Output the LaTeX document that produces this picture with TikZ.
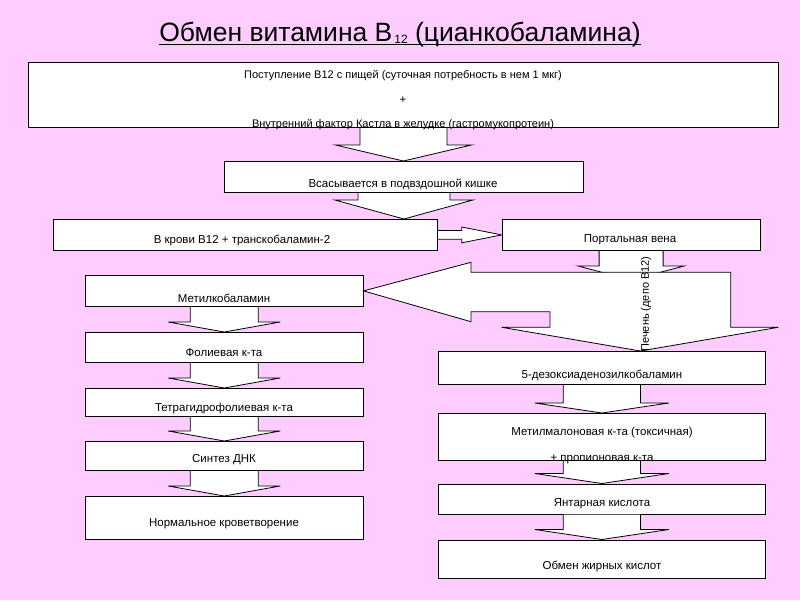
\documentclass[tikz,border=0pt]{standalone}
\usepackage{fontspec}
\setmainfont{Liberation Sans}
\usetikzlibrary{calc}
\definecolor{pinkbg}{RGB}{255,204,255}
\tikzset{
  boxnode/.style={draw, fill=white, line width=0.8pt, anchor=north west, inner sep=0pt},
  blockarrow/.style={draw, fill=white, line width=0.8pt, line join=miter},
  lbl/.style={inner sep=0pt, font=\fontsize{11.5}{13}\selectfont}
}
\newcommand{\blockdown}[5]{%
  \path[blockarrow] let \p1=(#1), \p2=(#2) in
    (\x1-#3,\y1-0.4pt) -- (\x1-#3,\y2+#5) -- (\x1-#4,\y2+#5) -- (\x1,\y2)
    -- (\x1+#4,\y2+#5) -- (\x1+#3,\y2+#5) -- (\x1+#3,\y1-0.4pt);}

\begin{document}
\begin{tikzpicture}[x=1pt,y=-1pt]
\fill[pinkbg] (0,0) rectangle (800,600);
\useasboundingbox (0,0) rectangle (800,600);

\node[anchor=base, inner sep=0pt, font=\fontsize{26.5}{30}\selectfont] (title) at (400,41)
  {Обмен витамина В\raisebox{-2pt}{\fontsize{12}{13}\selectfont\,12} (цианкобаламина)};
\draw[line width=1pt] ([yshift=-3pt]title.base west) -- ([yshift=-3pt]title.base east);

\node[boxnode, minimum width=750pt, minimum height=65pt] (intake) at (28,62) {};
\node[boxnode, minimum width=359pt, minimum height=31pt] (absorb) at (224,161) {};
\node[boxnode, minimum width=384pt, minimum height=31pt] (blood) at (53,219) {};
\node[boxnode, minimum width=258pt, minimum height=31pt] (portal) at (501.7,219) {};
\node[boxnode, minimum width=277.7pt, minimum height=31pt] (methyl) at (85,275) {};
\node[boxnode, minimum width=277.7pt, minimum height=30pt] (folic) at (85,332) {};
\node[boxnode, minimum width=277.7pt, minimum height=28pt] (thf) at (85,388) {};
\node[boxnode, minimum width=277.7pt, minimum height=29pt] (dna) at (85,441) {};
\node[boxnode, minimum width=277.7pt, minimum height=43pt] (blood2) at (85,496) {};
\node[boxnode, minimum width=327pt, minimum height=33pt] (adenosyl) at (438,351) {};
\node[boxnode, minimum width=327pt, minimum height=47pt] (mma) at (438,413) {};
\node[boxnode, minimum width=327pt, minimum height=30pt] (succinic) at (438,483.5) {};
\node[boxnode, minimum width=327pt, minimum height=38pt] (fatty) at (438,539.5) {};

\blockdown{intake.south}{absorb.north}{43.5pt}{68pt}{16pt}
\blockdown{absorb.south}{blood.north}{46pt}{69pt}{19pt}
\path[blockarrow] let \p1=(blood.east), \p2=(portal.west) in
  (\x1+0.4pt,\y1+4.4pt) -- (\x2-40pt,\y1+4.4pt) -- (\x2-40pt,\y1+7.9pt) -- (\x2,\y1)
  -- (\x2-40pt,\y1-7.9pt) -- (\x2-40pt,\y1-4.4pt) -- (\x1+0.4pt,\y1-4.4pt);
\coordinate (liverin) at (630.7,280);
\blockdown{portal.south}{liverin}{32pt}{53pt}{14pt}
\path[blockarrow] (methyl.east) -- (471,262.3) -- (471,272.3) -- (730.7,272.3)
  -- (730.7,327.3) -- (778.3,327.3) -- ($(adenosyl.north)+(38.5,0)$) -- (501.7,327.3)
  -- (550,327.3) -- (550,311.7) -- (471,311.7) -- (471,321.7) -- cycle;
\foreach \a/\b in {methyl/folic, folic/thf, thf/dna, dna/blood2}{
  \blockdown{\a.south}{\b.north}{34pt}{56pt}{10pt}
}
\foreach \a/\b in {adenosyl/mma, mma/succinic, succinic/fatty}{
  \blockdown{\a.south}{\b.north}{38.6pt}{67pt}{10pt}
}

\node[lbl, font=\fontsize{11}{13}\selectfont] (intake1) at (403,76) {Поступление В12 с пищей (суточная потребность в нем 1 мкг)};
\node[lbl] (intake2) at (403,100) {+};
\node[lbl, font=\fontsize{11}{13}\selectfont] (intake3) at (403,125) {Внутренний фактор Кастла в желудке (гастромукопротеин)};
\node[lbl] (absorbtxt) at (403,184) {Всасывается в подвздошной кишке};
\node[lbl] (bloodtxt) at (242,240) {В крови В12 + транскобаламин-2};
\node[lbl] (portaltxt) at (630,240) {Портальная вена};
\node[lbl, rotate=90, font=\fontsize{11}{13}\selectfont] (livertxt) at (646,304) {Печень (депо В12)};
\node[lbl] (methyltxt) at (224,298) {Метилкобаламин};
\node[lbl] (folictxt) at (224,353) {Фолиевая к-та};
\node[lbl] (thftxt) at (224,409) {Тетрагидрофолиевая к-та};
\node[lbl] (dnatxt) at (224,460) {Синтез ДНК};
\node[lbl] (blood2txt) at (224,524) {Нормальное кроветворение};
\node[lbl] (adenosyltxt) at (602,375) {5-дезоксиаденозилкобаламин};
\node[lbl] (mmatxt1) at (602,433) {Метилмалоновая к-та (токсичная)};
\node[lbl] (mmatxt2) at (602,459) {+ пропионовая к-та};
\node[lbl] (succinictxt) at (602,504) {Янтарная кислота};
\node[lbl] (fattytxt) at (602,566) {Обмен жирных кислот};
\end{tikzpicture}
\end{document}
